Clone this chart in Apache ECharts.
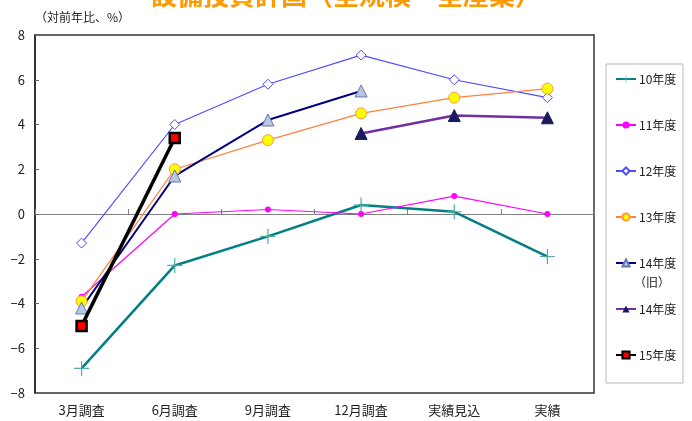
<!DOCTYPE html>
<html>
<head>
<meta charset="utf-8">
<script src="https://cdn.jsdelivr.net/npm/echarts@6/dist/echarts.min.js"></script>
<style>
  html, body { margin: 0; padding: 0; background: #fff; }
  #chart { width: 692px; height: 421px; }
</style>
</head>
<body>
<div id="chart"></div>
<script>
var categories = ['3月調査', '6月調査', '9月調査', '12月調査', '実績見込', '実績'];
var fy10 = [-6.9, -2.3, -1.0, 0.4, 0.1, -1.9];
var fy11 = [-3.7, 0.0, 0.2, 0.0, 0.8, 0.0];
var fy12 = [-1.3, 4.0, 5.8, 7.1, 6.0, 5.2];
var fy13 = [-3.9, 2.0, 3.3, 4.5, 5.2, 5.6];
var fy14old = [-4.2, 1.7, 4.2, 5.5, null, null];
var fy14 = [null, null, null, 3.6, 4.4, 4.3];
var fy15 = [-5.0, 3.4, null, null, null, null];

var font = '"Noto Sans CJK JP", "Noto Sans", sans-serif';
var plus = 'path://M4.6,0h0.8v4.6h4.6v0.8h-4.6v4.6h-0.8v-4.6h-4.6v-0.8h4.6z';

var chart = echarts.init(document.getElementById('chart'));
var option = {
    backgroundColor: '#fff',
    animation: false,
    textStyle: { fontFamily: font },
    title: {
        text: '設備投資計画（全規模・全産業）',
        left: 'center',
        top: -23,
        textStyle: { color: '#FF9900', fontSize: 26, fontWeight: 'bold', fontFamily: font }
    },
    graphic: [
        {
            type: 'rect',
            shape: { x: 606, y: 64, width: 77, height: 319 },
            style: { fill: '#fff', stroke: '#b8b8b8', lineWidth: 1 },
            z: 0
        },
        {
            type: 'text',
            left: 634,
            top: 276,
            style: { text: '（旧）', font: '12px ' + font, fill: '#222' },
            z: 10
        }
    ],
    legend: {
        orient: 'vertical',
        left: 610,
        top: 68,
        itemWidth: 20,
        itemHeight: 9,
        itemGap: 34,
        textStyle: { fontSize: 12, color: '#222', padding: [0, 0, 0, -2] },
        formatter: function (n) { return n.replace('（旧）', ''); },
        data: ['10年度', '11年度', '12年度', '13年度', '14年度（旧）', '14年度', '15年度']
    },
    grid: {
        left: 35, right: 98, top: 35, bottom: 28,
        show: true,
        borderColor: '#333',
        borderWidth: 1.5
    },
    xAxis: [
        {
            type: 'category',
            data: categories,
            position: 'bottom',
            axisLine: { show: false, onZero: false },
            axisTick: { show: false },
            axisLabel: { color: '#222', fontSize: 13, margin: 11 }
        },
        {
            type: 'category',
            data: categories,
            position: 'bottom',
            axisLine: { show: true, onZero: true, lineStyle: { color: '#808080', width: 1 } },
            axisTick: { show: true, inside: true, length: 5, lineStyle: { color: '#808080' } },
            axisLabel: { show: false }
        }
    ],
    yAxis: {
        type: 'value',
        min: -8, max: 8, interval: 2,
        name: '（対前年比、%）',
        nameLocation: 'end',
        nameGap: 12,
        nameTextStyle: { align: 'left', color: '#222', fontSize: 12 },
        axisLine: { show: true, lineStyle: { color: '#222', width: 1.5 } },
        axisTick: { show: true, inside: true, length: 4, lineStyle: { color: '#666' } },
        splitLine: { show: false },
        axisLabel: {
            color: '#222', fontSize: 13, margin: 10,
            formatter: function (v) { return String(v).replace('-', '−'); }
        }
    },
    series: [
        {
            name: '10年度', type: 'line', data: fy10,
            symbol: plus, symbolSize: 15,
            lineStyle: { color: '#008080', width: 2.5 },
            itemStyle: { color: '#55aaaa' }
        },
        {
            name: '11年度', type: 'line', data: fy11,
            symbol: 'circle', symbolSize: 6,
            lineStyle: { color: '#FF00FF', width: 1.2 },
            itemStyle: { color: '#FF00FF' }
        },
        {
            name: '12年度', type: 'line', data: fy12,
            symbol: 'diamond', symbolSize: 10,
            lineStyle: { color: '#4d4dff', width: 1.2 },
            itemStyle: { color: '#fff', borderColor: '#4d4dff', borderWidth: 1 }
        },
        {
            name: '13年度', type: 'line', data: fy13,
            symbol: 'circle', symbolSize: 11,
            lineStyle: { color: '#FF8040', width: 1.3 },
            itemStyle: { color: '#FFFF00', borderColor: '#FF9933', borderWidth: 1 }
        },
        {
            name: '14年度（旧）', type: 'line', data: fy14old,
            symbol: 'triangle', symbolSize: 12,
            lineStyle: { color: '#000080', width: 2 },
            itemStyle: { color: '#b8c8e0', borderColor: '#6678b0', borderWidth: 1 }
        },
        {
            name: '14年度', type: 'line', data: fy14,
            symbol: 'triangle', symbolSize: 12,
            lineStyle: { color: '#7030A0', width: 2.5 },
            itemStyle: { color: '#1a1a5e', borderColor: '#1a1a5e' }
        },
        {
            name: '15年度', type: 'line', data: fy15,
            symbol: 'rect', symbolSize: 10,
            lineStyle: { color: '#000', width: 3.5 },
            itemStyle: { color: '#FF0000', borderColor: '#000', borderWidth: 2.5 },
            z: 5
        }
    ]
};
chart.setOption(option);
window.addEventListener('resize', chart.resize);
</script>
</body>
</html>
